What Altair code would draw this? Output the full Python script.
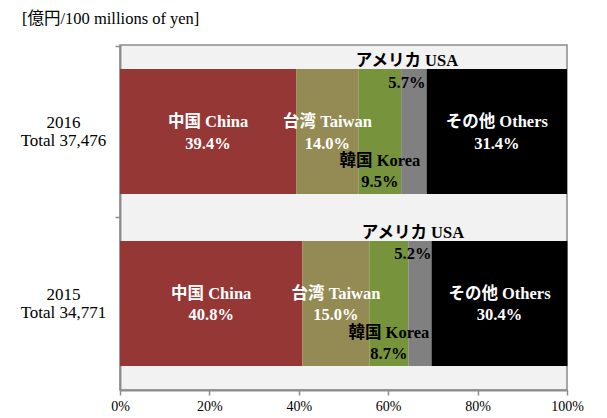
import altair as alt
import pandas as pd

years = ["2016", "2015"]
totals = ["37,476", "34,771"]
regions_jp = ["中国", "台湾", "韓国", "アメリカ", "その他"]
regions_en = ["China", "Taiwan", "Korea", "USA", "Others"]
share_2016 = [39.4, 14.0, 9.5, 5.7, 31.4]
share_2015 = [40.8, 15.0, 8.7, 5.2, 30.4]
colors = ["#953735", "#948A54", "#77933C", "#808080", "#000000"]
x_ticks = [0, 20, 40, 60, 80, 100]

rows = []
for yr, tot, shares in zip(years, totals, [share_2016, share_2015]):
    for i, (jp, en, v) in enumerate(zip(regions_jp, regions_en, shares)):
        rows.append({
            "row": f"{yr}\nTotal {tot}",
            "region": en,
            "name": f"{jp} {en}",
            "share": v,
            "pct": f"{v:.1f}%",
            "order": i,
        })
df = pd.DataFrame(rows)
row_order = [f"{y}\nTotal {t}" for y, t in zip(years, totals)]

FONT = "Liberation Serif, Noto Sans CJK JP"
AXIS_COL = "#8c8c8c"

y_enc = alt.Y(
    "row:N",
    sort=row_order,
    scale=alt.Scale(paddingInner=0.273, paddingOuter=0.14),
    axis=alt.Axis(
        title=None,
        labelExpr="split(datum.label, '\\n')",
        tickOffset=-86,
        labelAlign="center",
        labelBaseline="middle",
        labelPadding=52,
        labelLineHeight=18,
        labelOffset=77,
        labelFontSize=17,
        labelFont=FONT,
        labelColor="black",
        tickSize=5,
        domainColor=AXIS_COL,
        tickColor=AXIS_COL,
        domainWidth=2,
        tickWidth=1.5,
    ),
)

x_scale = alt.Scale(domain=[0, 100], nice=False)
x_axis = alt.Axis(
    title=None,
    values=x_ticks,
    labelExpr="datum.value + '%'",
    labelFlush=False,
    grid=False,
    labelFontSize=14,
    labelFont=FONT,
    labelColor="black",
    labelPadding=4,
    tickSize=5,
    domainColor=AXIS_COL,
    tickColor=AXIS_COL,
    domainWidth=2,
    tickWidth=1.5,
)

base = alt.Chart(df)

bars = base.mark_bar(strokeWidth=0).encode(
    x=alt.X("share:Q", stack="zero", scale=x_scale, axis=x_axis),
    y=y_enc,
    color=alt.Color("region:N", scale=alt.Scale(domain=regions_en, range=colors), legend=None),
    order=alt.Order("order:Q"),
)

stacked = base.transform_stack(
    stack="share", groupby=["row"], as_=["s0", "s1"], sort=[alt.SortField("order")]
).transform_calculate(mid="(datum.s0 + datum.s1) / 2")


def label_layer(regs, color, dy_name, dy_pct, dx=0):
    sub = stacked.transform_filter(alt.FieldOneOfPredicate(field="region", oneOf=regs))
    enc = dict(x=alt.X("mid:Q", scale=x_scale, axis=x_axis), y=alt.Y("row:N", sort=row_order))
    name = sub.mark_text(font=FONT, fontWeight="bold", fontSize=16.5, color=color,
                         baseline="middle", dy=dy_name, dx=dx).encode(text="name:N", **enc)
    pct = sub.mark_text(font=FONT, fontWeight="bold", fontSize=16.5, color=color,
                        baseline="middle", dy=dy_pct, dx=dx).encode(text="pct:N", **enc)
    return [name, pct]


layers = [bars]
layers += label_layer(["China", "Taiwan", "Others"], "white", -9.5, 12)
layers += label_layer(["Korea"], "black", 29.5, 50.5)
layers += label_layer(["USA"], "black", -70.5, -49, dx=-7)

chart = alt.layer(*layers).properties(
    width=447,
    height=345,
    autosize=alt.AutoSizeParams(type="none"),
    padding={"left": 112, "top": 37, "right": 32, "bottom": 28},
    title=alt.TitleParams(
        "[億円/100 millions of yen]",
        anchor="start",
        frame="group",
        dx=-98,
        dy=-7,
        offset=11,
        font=FONT,
        fontSize=16.5,
        fontWeight="normal",
        color="black",
    ),
).configure_view(fill="#f2f2f2", stroke=AXIS_COL, strokeWidth=1.5)

chart.save("out.html", embed_options={"renderer": "svg", "actions": False})
